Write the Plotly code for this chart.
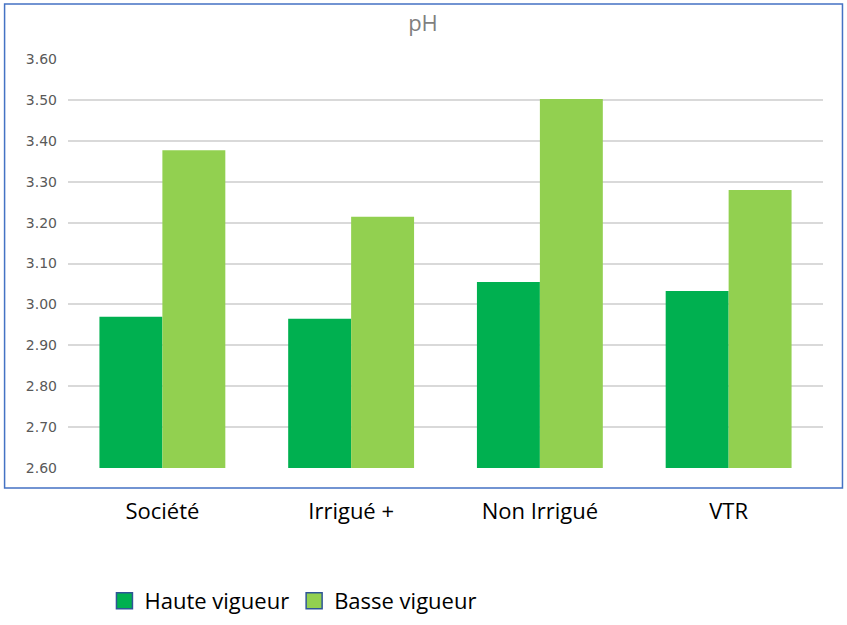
import plotly.graph_objects as go

categories = ["Société", "Irrigué +", "Non Irrigué", "VTR"]
haute = [2.97, 2.965, 3.055, 3.033]
basse = [3.377, 3.214, 3.502, 3.28]
series_names = ["Haute vigueur", "Basse vigueur"]
y_ticks = [2.6, 2.7, 2.8, 2.9, 3.0, 3.1, 3.2, 3.3, 3.4, 3.5, 3.6]

c_haute = "#00B050"
c_basse = "#92D050"
legend_edge = "#2F5597"

fig = go.Figure()
fig.add_trace(go.Bar(x=categories, y=[v - 2.6 for v in haute], base=2.6, name=series_names[0],
                     marker=dict(color=c_haute, line=dict(width=0)), showlegend=False))
fig.add_trace(go.Bar(x=categories, y=[v - 2.6 for v in basse], base=2.6, name=series_names[1],
                     marker=dict(color=c_basse, line=dict(width=0)), showlegend=False))
# legend entries with larger square swatches
for nm, col in zip(series_names, [c_haute, c_basse]):
    fig.add_trace(go.Scatter(x=[None], y=[None], mode="markers", name=nm,
                             marker=dict(symbol="square", size=22, color=col,
                                         line=dict(color=legend_edge, width=1.5))))

fig.update_layout(
    width=847, height=625,
    margin=dict(l=67.5, r=23.5, t=59, b=157, autoexpand=False),
    paper_bgcolor="white", plot_bgcolor="white",
    barmode="group", bargap=0.333, bargroupgap=0,
    title=dict(text="pH", x=423 / 847, xanchor="center", y=1 - 23 / 625, yanchor="middle",
               font=dict(family="Open Sans", size=22, color="#7F7F7F")),
    xaxis=dict(showgrid=False, showline=False, ticks="", ticklabelstandoff=28, automargin=False,
               tickfont=dict(family="Open Sans", size=22, color="#000000")),
    yaxis=dict(range=[2.6, 3.6], tickvals=y_ticks, tickformat=".2f", automargin=False,
               showgrid=True, gridcolor="#D9D9D9", gridwidth=1.5, zeroline=False,
               showline=False, ticks="", ticklabelstandoff=10,
               tickfont=dict(family="DejaVu Sans", size=14, color="#595959")),
    legend=dict(orientation="h", x=(104 - 67.5) / 756, xanchor="left",
                y=(468 - 601) / 409, yanchor="middle",
                font=dict(family="Open Sans", size=22, color="#000000"),
                itemsizing="trace", tracegroupgap=0, itemwidth=30, bgcolor="rgba(0,0,0,0)"),
    showlegend=True,
    shapes=[dict(type="rect", xref="paper", yref="paper",
                 x0=(4 - 67.5) / 756, x1=(843 - 67.5) / 756,
                 y0=(468 - 488) / 409, y1=(468 - 4) / 409,
                 line=dict(color="#4472C4", width=1.5), fillcolor="rgba(0,0,0,0)", layer="below")],
)

fig.write_html("out.html", config={"displayModeBar": False},
               post_script="document.body.style.margin='0';")
